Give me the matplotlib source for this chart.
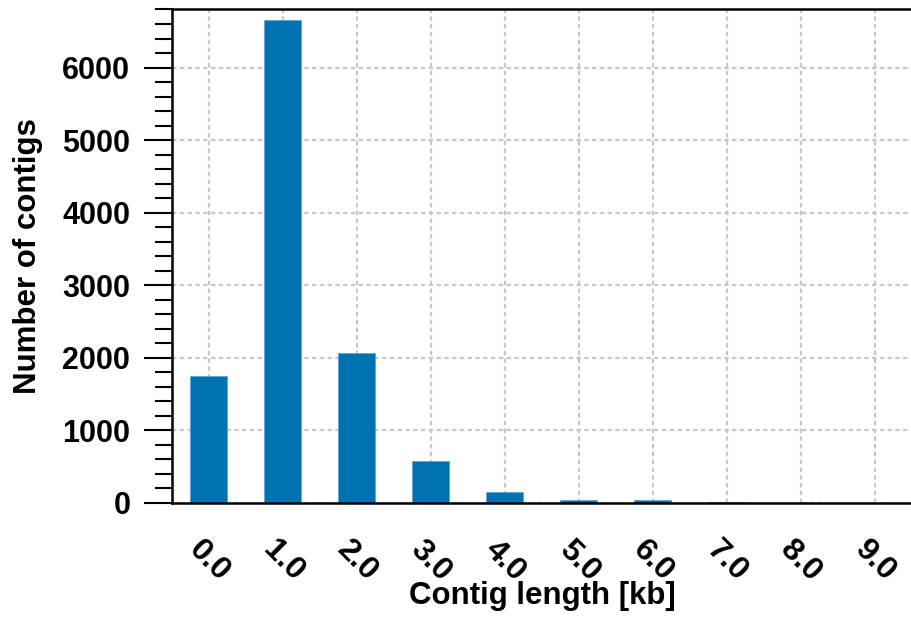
import matplotlib
matplotlib.use("Agg")
import matplotlib.pyplot as plt
import matplotlib.ticker as mticker
import numpy as np

# contig length bins (kb) and counts
bin_labels = ["0.0", "1.0", "2.0", "3.0", "4.0", "5.0", "6.0", "7.0", "8.0", "9.0"]
counts = [1750, 6650, 2065, 580, 155, 42, 36, 10, 5, 3]

plt.rcParams['font.family'] = ['Liberation Sans', 'DejaVu Sans']
plt.rcParams['font.weight'] = 'bold'
plt.rcParams['font.size'] = 22

fig = plt.figure(figsize=(9.11, 6.19), dpi=100)
ax = fig.add_axes([0.1888, 0.1874, 0.8122, 0.7973])

x = np.arange(len(counts))
ax.bar(x, counts, width=0.5, color="#0072b2", edgecolor="#5aa5d8", linewidth=0.6, zorder=2)

ax.set_xlim(-0.5, 9.5)
ax.set_ylim(0, 6800)
ax.set_xticks(x)
ax.set_xticklabels(bin_labels, rotation=-45, ha="center")
ax.yaxis.set_major_locator(mticker.MultipleLocator(1000))
ax.yaxis.set_minor_locator(mticker.MultipleLocator(200))

ax.grid(True, which="major", color="#c8c8c8", linestyle=(0, (2, 1.5)), linewidth=1.6, zorder=0)
ax.set_axisbelow(True)

ax.tick_params(axis="y", which="major", direction="out", length=20, width=1.5, pad=10, labelsize=22)
ax.tick_params(axis="y", which="minor", direction="out", length=12, width=1.5)
ax.tick_params(axis="x", which="both", length=0, pad=23, labelsize=23)
ax.tick_params(right=False, top=False)

for s in ["left", "bottom", "top"]:
    ax.spines[s].set_linewidth(1.8)
ax.spines["right"].set_visible(False)

ax.set_xlabel("Contig length [kb]", fontsize=22.5, fontweight="bold", labelpad=-5)
ax.set_ylabel("Number of contigs", fontsize=22.5, fontweight="bold", labelpad=14)

fig.savefig("out.png", dpi=100)
